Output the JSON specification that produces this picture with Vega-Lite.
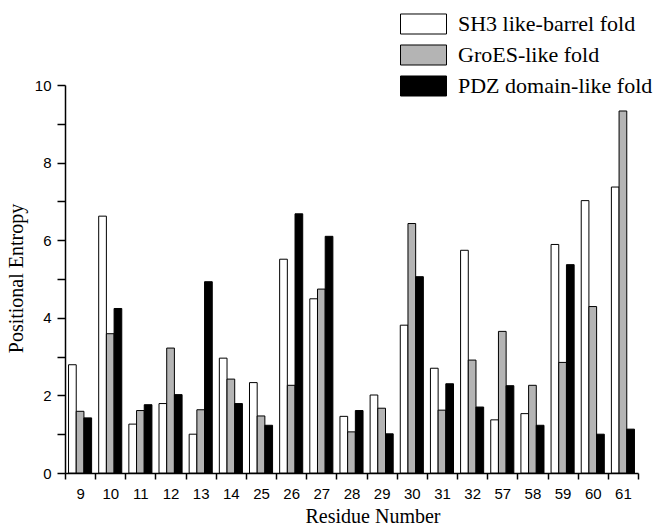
{
  "$schema": "https://vega.github.io/schema/vega-lite/v6.json",
  "autosize": "none",
  "width": 573,
  "height": 388,
  "padding": {"left": 65, "top": 85, "right": 22, "bottom": 52},
  "background": "white",
  "config": {
    "view": {"stroke": null},
    "axis": {"domainColor": "black", "tickColor": "black", "labelColor": "black", "titleColor": "black", "grid": false}
  },
  "data": {
    "values": [
      {"residue": 9, "fold": "SH3 like-barrel fold", "entropy": 2.79},
      {"residue": 9, "fold": "GroES-like fold", "entropy": 1.59},
      {"residue": 9, "fold": "PDZ domain-like fold", "entropy": 1.42},
      {"residue": 10, "fold": "SH3 like-barrel fold", "entropy": 6.62},
      {"residue": 10, "fold": "GroES-like fold", "entropy": 3.59},
      {"residue": 10, "fold": "PDZ domain-like fold", "entropy": 4.24},
      {"residue": 11, "fold": "SH3 like-barrel fold", "entropy": 1.26},
      {"residue": 11, "fold": "GroES-like fold", "entropy": 1.61},
      {"residue": 11, "fold": "PDZ domain-like fold", "entropy": 1.76},
      {"residue": 12, "fold": "SH3 like-barrel fold", "entropy": 1.79},
      {"residue": 12, "fold": "GroES-like fold", "entropy": 3.22},
      {"residue": 12, "fold": "PDZ domain-like fold", "entropy": 2.02},
      {"residue": 13, "fold": "SH3 like-barrel fold", "entropy": 1.0},
      {"residue": 13, "fold": "GroES-like fold", "entropy": 1.63},
      {"residue": 13, "fold": "PDZ domain-like fold", "entropy": 4.93},
      {"residue": 14, "fold": "SH3 like-barrel fold", "entropy": 2.96},
      {"residue": 14, "fold": "GroES-like fold", "entropy": 2.42},
      {"residue": 14, "fold": "PDZ domain-like fold", "entropy": 1.79},
      {"residue": 25, "fold": "SH3 like-barrel fold", "entropy": 2.33},
      {"residue": 25, "fold": "GroES-like fold", "entropy": 1.47},
      {"residue": 25, "fold": "PDZ domain-like fold", "entropy": 1.23},
      {"residue": 26, "fold": "SH3 like-barrel fold", "entropy": 5.51},
      {"residue": 26, "fold": "GroES-like fold", "entropy": 2.26},
      {"residue": 26, "fold": "PDZ domain-like fold", "entropy": 6.68},
      {"residue": 27, "fold": "SH3 like-barrel fold", "entropy": 4.49},
      {"residue": 27, "fold": "GroES-like fold", "entropy": 4.74},
      {"residue": 27, "fold": "PDZ domain-like fold", "entropy": 6.1},
      {"residue": 28, "fold": "SH3 like-barrel fold", "entropy": 1.46},
      {"residue": 28, "fold": "GroES-like fold", "entropy": 1.06},
      {"residue": 28, "fold": "PDZ domain-like fold", "entropy": 1.61},
      {"residue": 29, "fold": "SH3 like-barrel fold", "entropy": 2.01},
      {"residue": 29, "fold": "GroES-like fold", "entropy": 1.67},
      {"residue": 29, "fold": "PDZ domain-like fold", "entropy": 1.01},
      {"residue": 30, "fold": "SH3 like-barrel fold", "entropy": 3.81},
      {"residue": 30, "fold": "GroES-like fold", "entropy": 6.43},
      {"residue": 30, "fold": "PDZ domain-like fold", "entropy": 5.06},
      {"residue": 31, "fold": "SH3 like-barrel fold", "entropy": 2.7},
      {"residue": 31, "fold": "GroES-like fold", "entropy": 1.62},
      {"residue": 31, "fold": "PDZ domain-like fold", "entropy": 2.3},
      {"residue": 32, "fold": "SH3 like-barrel fold", "entropy": 5.74},
      {"residue": 32, "fold": "GroES-like fold", "entropy": 2.91},
      {"residue": 32, "fold": "PDZ domain-like fold", "entropy": 1.7},
      {"residue": 57, "fold": "SH3 like-barrel fold", "entropy": 1.37},
      {"residue": 57, "fold": "GroES-like fold", "entropy": 3.65},
      {"residue": 57, "fold": "PDZ domain-like fold", "entropy": 2.25},
      {"residue": 58, "fold": "SH3 like-barrel fold", "entropy": 1.53},
      {"residue": 58, "fold": "GroES-like fold", "entropy": 2.26},
      {"residue": 58, "fold": "PDZ domain-like fold", "entropy": 1.23},
      {"residue": 59, "fold": "SH3 like-barrel fold", "entropy": 5.89},
      {"residue": 59, "fold": "GroES-like fold", "entropy": 2.85},
      {"residue": 59, "fold": "PDZ domain-like fold", "entropy": 5.37},
      {"residue": 60, "fold": "SH3 like-barrel fold", "entropy": 7.02},
      {"residue": 60, "fold": "GroES-like fold", "entropy": 4.29},
      {"residue": 60, "fold": "PDZ domain-like fold", "entropy": 1.0},
      {"residue": 61, "fold": "SH3 like-barrel fold", "entropy": 7.37},
      {"residue": 61, "fold": "GroES-like fold", "entropy": 9.33},
      {"residue": 61, "fold": "PDZ domain-like fold", "entropy": 1.13}
    ]
  },
  "mark": {"type": "bar", "stroke": "black", "strokeWidth": 1, "fillOpacity": 1},
  "encoding": {
    "x": {
      "field": "residue",
      "type": "ordinal",
      "scale": {"paddingInner": 0, "paddingOuter": 0},
      "axis": {
        "title": "Residue Number",
        "titleFont": "Liberation Serif",
        "titleFontSize": 20,
        "titleFontWeight": "normal",
        "titleBaseline": "alphabetic",
        "titleAlign": "center",
        "titleX": 307.5,
        "titleY": 49,
        "labelFont": "Liberation Sans",
        "labelFontSize": 15,
        "labelAngle": 0,
        "labelPadding": 7,
        "tickBand": "extent",
        "tickSize": 6,
        "tickWidth": 1.5,
        "domainWidth": 1.5
      }
    },
    "xOffset": {
      "field": "fold",
      "type": "nominal",
      "sort": ["SH3 like-barrel fold", "GroES-like fold", "PDZ domain-like fold"],
      "scale": {"paddingInner": 0, "paddingOuter": 0.46}
    },
    "y": {
      "field": "entropy",
      "type": "quantitative",
      "scale": {"domain": [0, 10], "nice": false},
      "axis": {
        "title": "Positional Entropy",
        "titleFont": "Liberation Serif",
        "titleFontSize": 20,
        "titleFontWeight": "normal",
        "titleBaseline": "alphabetic",
        "titleX": -43,
        "titleY": 193,
        "labelFont": "Liberation Sans",
        "labelFontSize": 15,
        "labelPadding": 6,
        "values": [0, 1, 2, 3, 4, 5, 6, 7, 8, 9, 10],
        "labelExpr": "datum.value % 2 == 0 ? datum.label : ''",
        "tickSize": 8,
        "tickWidth": 1.5,
        "domainWidth": 1.5
      }
    },
    "color": {
      "field": "fold",
      "type": "nominal",
      "scale": {
        "domain": ["SH3 like-barrel fold", "GroES-like fold", "PDZ domain-like fold"],
        "range": ["#ffffff", "#b4b4b4", "#000000"]
      },
      "legend": {
        "title": null,
        "orient": "none",
        "legendX": 346.5,
        "legendY": -73,
        "padding": 0,
        "symbolType": "M-2,-0.87H2V0.87H-2Z",
        "symbolSize": 529,
        "symbolStrokeColor": "black",
        "symbolStrokeWidth": 1,
        "symbolOpacity": 1,
        "labelFont": "Liberation Serif",
        "labelFontSize": 22,
        "labelColor": "black",
        "labelOffset": 22.5,
        "labelLimit": 300,
        "rowPadding": 5
      }
    }
  }
}
